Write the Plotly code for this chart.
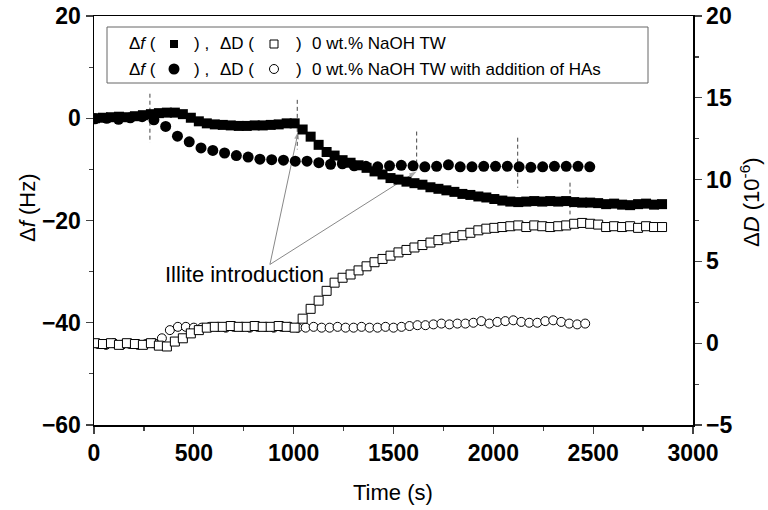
import plotly.graph_objects as go

# ---------------- data ----------------
t_sq = [5, 45, 85, 125, 165, 205, 245, 285, 325, 365, 405, 445, 485, 525, 565, 605, 645, 685,
        725, 765, 805, 845, 885, 925, 965, 1005, 1045, 1085, 1125, 1165, 1205, 1245, 1285, 1325,
        1365, 1405, 1445, 1485, 1525, 1565, 1605, 1645, 1685, 1725, 1765, 1805, 1845, 1885, 1925,
        1965, 2005, 2045, 2085, 2125, 2165, 2205, 2245, 2285, 2325, 2365, 2405, 2445, 2485, 2525,
        2565, 2605, 2645, 2685, 2725, 2765, 2805, 2845]
df_0 = [0.0, 0.1, 0.2, 0.3, 0.2, 0.4, 0.6, 0.8, 1.0, 1.1, 1.1, 0.8, 0.1, -0.6, -1.0, -1.2, -1.3, -1.4,
        -1.5, -1.5, -1.4, -1.4, -1.3, -1.2, -1.0, -1.0, -2.2, -3.6, -5.2, -6.6, -7.3, -8.2, -8.7, -9.2,
        -9.7, -10.4, -11.0, -11.7, -12.0, -12.4, -12.7, -13.0, -13.5, -13.8, -14.1, -14.4, -14.8, -15.0, -15.3,
        -15.5, -15.8, -16.1, -16.3, -16.4, -16.3, -16.2, -16.3, -16.2, -16.3, -16.2, -16.4, -16.5, -16.5, -16.6,
        -16.8, -16.7, -16.9, -17.0, -16.8, -16.7, -16.9, -16.8]
dD_0 = [0.0, -0.05, 0.0, -0.1, 0.0, -0.05, -0.1, 0.0, -0.15, -0.2, 0.1, 0.3, 0.6, 0.8, 0.95, 1.0, 1.0, 1.05,
        1.0, 1.0, 1.05, 1.0, 1.0, 1.05, 1.0, 0.95, 1.5, 2.1, 2.6, 3.2, 3.7, 4.0, 4.2, 4.45,
        4.7, 4.95, 5.15, 5.35, 5.55, 5.7, 5.85, 6.0, 6.15, 6.3, 6.4, 6.5, 6.6, 6.75, 6.9,
        7.0, 7.05, 7.1, 7.15, 7.2, 7.1, 7.2, 7.15, 7.1, 7.15, 7.2, 7.3, 7.35, 7.3, 7.25,
        7.1, 7.15, 7.1, 7.15, 7.05, 7.15, 7.1, 7.1]

t_ha_f = [5, 64, 123, 182, 241, 300, 359, 418, 477, 536, 595, 654, 713, 772, 831, 890, 949, 1008,
          1067, 1126, 1185, 1244, 1303, 1362, 1421, 1480, 1539, 1598, 1657, 1716, 1775, 1834, 1893,
          1952, 2011, 2070, 2129, 2188, 2247, 2306, 2365, 2424, 2483]
df_ha = [-0.1, 0.0, -0.2, 0.1, 0.3, -0.3, -1.6, -3.5, -4.6, -5.8, -6.3, -6.8, -7.3, -7.6, -8.0, -8.1, -8.2, -8.4,
         -8.4, -8.7, -9.0, -8.9, -9.3, -9.4, -9.5, -9.3, -9.2, -9.3, -9.5, -9.4, -9.1, -9.5, -9.5,
         -9.4, -9.4, -9.4, -9.5, -9.6, -9.5, -9.4, -9.4, -9.4, -9.5]

t_ha_d = [20, 60, 100, 140, 180, 220, 260, 300, 340, 380, 420, 460, 500, 540, 580, 620, 660, 700,
          740, 780, 820, 860, 900, 940, 980, 1020, 1060, 1100, 1140, 1180, 1220, 1260, 1300, 1340,
          1380, 1420, 1460, 1500, 1540, 1580, 1620, 1660, 1700, 1740, 1780, 1820, 1860, 1900, 1940,
          1980, 2020, 2060, 2100, 2140, 2180, 2220, 2260, 2300, 2340, 2380, 2420, 2460]
dD_ha = [-0.05, -0.1, 0.0, -0.1, -0.05, -0.1, -0.05, 0.0, 0.3, 0.8, 1.0, 1.0, 0.95, 0.95, 1.0, 1.0, 0.95, 1.0,
         1.0, 0.95, 1.0, 1.0, 0.95, 1.0, 1.0, 0.95, 0.95, 1.0, 0.95, 0.95, 1.0, 0.95, 0.95, 1.0,
         0.95, 0.95, 1.0, 0.95, 1.0, 1.05, 1.1, 1.1, 1.15, 1.2, 1.15, 1.2, 1.2, 1.25, 1.35,
         1.2, 1.3, 1.35, 1.4, 1.3, 1.25, 1.25, 1.35, 1.4, 1.3, 1.2, 1.15, 1.2]

# event markers (dashed vertical lines), on the Δf axis
evt_t = [280, 1018, 1616, 2122, 2384]
evt_top = [4.8, 3.6, -2.6, -3.8, -12.6]
evt_bot = [-4.8, -6.1, -10.4, -13.6, -18.8]

# "Illite introduction" label and arrows (Δf axis)
label_text = "Illite introduction"
label_pos = (756, -30.6)
arrow_tail = (881, -28.6)
arrow_heads = [(1023, -2.6), (1616, -10.4)]

x_ticks = [0, 500, 1000, 1500, 2000, 2500, 3000]
legend_rows = ["0 wt.% NaOH TW", "0 wt.% NaOH TW with addition of HAs"]

# ---------------- figure ----------------
FONT = "Liberation Sans, Arial, sans-serif"
W, H = 768, 510
L, R, T, B = 94, 75, 16, 85
PW, PH = W - L - R, H - T - B


def px(x):
    return (x - L) / PW


def py(y):
    return (H - B - y) / PH


fig = go.Figure()

ex, ey = [], []
for t, a, b in zip(evt_t, evt_top, evt_bot):
    ex += [t, t, None]
    ey += [a, b, None]
fig.add_trace(go.Scatter(x=ex, y=ey, mode="lines", yaxis="y",
                         line=dict(color="#444", width=1, dash="4px,3px"),
                         showlegend=False, hoverinfo="skip"))

# arrows from the label to the introduction points
for hx, hy in arrow_heads:
    fig.add_trace(go.Scatter(x=[arrow_tail[0], hx], y=[arrow_tail[1], hy], mode="lines+markers",
                             yaxis="y", line=dict(color="#888", width=1),
                             marker=dict(symbol="arrow", size=[0, 8], angleref="previous",
                                         color="#888", line=dict(width=0)),
                             showlegend=False, hoverinfo="skip"))

fig.add_trace(go.Scatter(x=t_sq, y=df_0, mode="markers", yaxis="y",
                         marker=dict(symbol="square", size=10, color="black",
                                     line=dict(color="black", width=0)),
                         showlegend=False))
fig.add_trace(go.Scatter(x=t_ha_f, y=df_ha, mode="markers", yaxis="y",
                         marker=dict(symbol="circle", size=11, color="black",
                                     line=dict(color="black", width=0)),
                         showlegend=False))
fig.add_trace(go.Scatter(x=t_ha_d, y=dD_ha, mode="markers", yaxis="y2",
                         marker=dict(symbol="circle", size=9, color="white",
                                     line=dict(color="black", width=1)),
                         showlegend=False))
fig.add_trace(go.Scatter(x=t_sq, y=dD_0, mode="markers", yaxis="y2",
                         marker=dict(symbol="square", size=9, color="white",
                                     line=dict(color="black", width=1)),
                         showlegend=False))

titlefont = dict(family=FONT, size=22, color="black")
annotations = [dict(x=label_pos[0], y=label_pos[1], xref="x", yref="y", text=label_text,
                    showarrow=False, font=dict(family=FONT, size=22, color="black"))]
# axis titles as annotations for exact placement
annotations.append(dict(x=px(393), y=py(492), xref="paper", yref="paper", text="Time (s)",
                        showarrow=False, font=titlefont, xanchor="center", yanchor="middle"))
annotations.append(dict(x=px(27), y=py(208), xref="paper", yref="paper", text="Δ<i>f</i> (Hz)",
                        showarrow=False, font=titlefont, textangle=-90,
                        xanchor="center", yanchor="middle"))
annotations.append(dict(x=px(750), y=py(202), xref="paper", yref="paper",
                        text="Δ<i>D</i> (10<sup>-6</sup>)", showarrow=False, font=titlefont,
                        textangle=-90, xanchor="center", yanchor="middle"))

# legend (custom, drawn as text + shapes)
shapes = [dict(type="rect", xref="paper", yref="paper", x0=px(107), x1=px(648),
               y0=py(83), y1=py(27), line=dict(color="#666", width=1), fillcolor="white",
               layer="below")]
row_y = [44, 69]
lf = dict(family=FONT, size=17, color="black")
for i, (ry, txt) in enumerate(zip(row_y, legend_rows)):
    for xx, s in [(127, "Δ<i>f</i> ("), (192, ") ,"), (218, "ΔD ("), (294, ")"), (310, txt)]:
        annotations.append(dict(x=px(xx), y=py(ry), xref="paper", yref="paper", text=s,
                                xanchor="left", yanchor="middle", showarrow=False, font=lf))
    if i == 0:
        shapes.append(dict(type="rect", xref="paper", yref="paper", x0=px(170), x1=px(178),
                           y0=py(ry + 4), y1=py(ry - 4), fillcolor="black", line=dict(width=0)))
        shapes.append(dict(type="rect", xref="paper", yref="paper", x0=px(270), x1=px(278),
                           y0=py(ry + 4), y1=py(ry - 4), fillcolor="white",
                           line=dict(color="black", width=1)))
    else:
        shapes.append(dict(type="circle", xref="paper", yref="paper", x0=px(168.5), x1=px(179.5),
                           y0=py(ry + 5.5), y1=py(ry - 5.5), fillcolor="black", line=dict(width=0)))
        shapes.append(dict(type="circle", xref="paper", yref="paper", x0=px(269.5), x1=px(278.5),
                           y0=py(ry + 4.5), y1=py(ry - 4.5), fillcolor="white",
                           line=dict(color="black", width=1)))

tickfont = dict(family=FONT, size=23, color="black", weight="bold")

fig.update_layout(
    width=W, height=H, margin=dict(l=L, r=R, t=T, b=B, autoexpand=False),
    paper_bgcolor="white", plot_bgcolor="white", showlegend=False,
    xaxis=dict(range=[0, 3000], tickvals=x_ticks, ticks="outside", ticklen=7, tickwidth=1.2,
               showline=True, linecolor="black", linewidth=1.5, mirror=True, showgrid=False,
               zeroline=False, tickfont=tickfont,
               minor=dict(ticks="outside", ticklen=4, dtick=250, tick0=0, showgrid=False)),
    yaxis=dict(range=[-60, 20], dtick=20, ticks="outside", ticklen=7, tickwidth=1.2,
               showline=True, linecolor="black", linewidth=1.5, showgrid=False, zeroline=False,
               tickfont=tickfont,
               minor=dict(ticks="outside", ticklen=4, dtick=10, tick0=0, showgrid=False)),
    yaxis2=dict(range=[-5, 20], dtick=5, overlaying="y", side="right", ticks="outside",
                ticklen=7, tickwidth=1.2, showline=True, linecolor="black", linewidth=1.5,
                showgrid=False, zeroline=False, tickfont=tickfont,
                minor=dict(ticks="outside", ticklen=4, dtick=2.5, tick0=0, showgrid=False)),
    annotations=annotations, shapes=shapes,
)

# remove the default page margin so the 768x510 figure fills the window exactly
fig.write_html("out.html", config={"displayModeBar": False, "staticPlot": True},
               post_script="document.body.style.margin='0';document.body.style.overflow='hidden';")
